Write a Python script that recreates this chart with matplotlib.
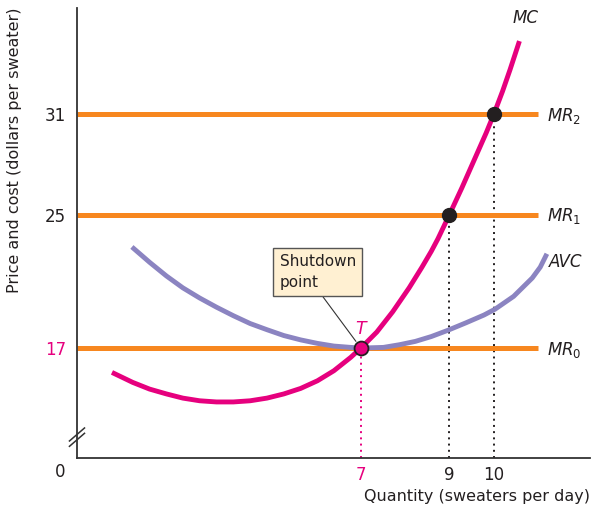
import matplotlib
matplotlib.use('Agg')
import matplotlib.pyplot as plt

# Fonts
plt.rcParams['font.family'] = ['DejaVu Sans']
plt.rcParams['mathtext.fontset'] = 'dejavusans'

# Colours
orange = '#F7871F'
magenta = '#E6007E'
purple = '#8B84C1'
ink = '#231F20'

# Data
mc_q = [1.38, 1.85, 2.23, 2.61, 2.98, 3.36, 3.74, 4.12, 4.5, 4.88, 5.26, 5.64, 6.02,
        6.39, 6.77, 7.0, 7.36, 7.72, 8.09, 8.38, 8.59, 8.74, 9.0, 9.28, 9.58, 9.83,
        10.0, 10.2, 10.37, 10.58]
mc_p = [15.54, 14.94, 14.54, 14.25, 14.0, 13.84, 13.77, 13.77, 13.84, 14.0, 14.25, 14.58, 15.04,
        15.64, 16.44, 17.0, 17.96, 19.18, 20.61, 21.85, 22.8, 23.55, 25.0, 26.6, 28.4, 29.9,
        31.0, 32.4, 33.7, 35.4]

avc_q = [1.83, 2.23, 2.61, 2.98, 3.36, 3.74, 4.12, 4.5, 4.88, 5.26, 5.64, 6.02, 6.39,
         6.77, 7.0, 7.51, 7.87, 8.23, 8.59, 8.96, 9.37, 9.78, 10.03, 10.45, 10.87, 11.05, 11.2]
avc_p = [23.06, 22.14, 21.32, 20.61, 20.0, 19.45, 18.94, 18.47, 18.1, 17.75, 17.49, 17.28, 17.12,
         17.04, 17.0, 17.04, 17.2, 17.4, 17.69, 18.06, 18.51, 18.98, 19.33, 20.1, 21.2, 21.85, 22.65]

mr_prices = [17, 25, 31]
mr_labels = ['$MR_0$', '$MR_1$', '$MR_2$']

profit_q = [9, 10]
profit_p = [25, 31]
shutdown_q = 7
shutdown_p = 17

x_ticks = [7, 9, 10]
y_ticks = [17, 25, 31]

# Figure
fig = plt.figure(figsize=(5.94, 5.16), dpi=100)
ax = fig.add_axes([0.1296, 0.1124, 0.8634, 0.872])
xmin, xmax = 0.59, 12.17
ymin, ymax = 10.41, 37.38
ax.set_xlim(xmin, xmax)
ax.set_ylim(ymin, ymax)

# Marginal revenue lines
for p, lab in zip(mr_prices, mr_labels):
    ax.plot([xmin, 11.0], [p, p], color=orange, lw=3.6, solid_capstyle='butt', zorder=2)
    ax.text(11.2, p - 0.1, lab, fontsize=12, va='center', ha='left', color=ink)

# Cost curves
ax.plot(avc_q, avc_p, color=purple, lw=3.5, solid_capstyle='butt', zorder=3)
ax.plot(mc_q, mc_p, color=magenta, lw=3.5, solid_capstyle='butt', zorder=4)
ax.text(10.71, 36.8, 'MC', fontsize=12, style='italic', ha='center', va='center', color=ink)
ax.text(11.24, 22.13, 'AVC', fontsize=12, style='italic', ha='left', va='center', color=ink)

# Dotted drop lines
for q, p in zip(profit_q, profit_p):
    ax.plot([q, q], [ymin, p], color=ink, lw=1.4, ls=(0, (1, 2.2)), zorder=1)
ax.plot([shutdown_q, shutdown_q], [ymin, shutdown_p], color=magenta, lw=1.4,
        ls=(0, (1, 2.2)), zorder=1)

# Points
ax.plot(profit_q, profit_p, 'o', ms=10, color=ink, zorder=6)
ax.plot([shutdown_q], [shutdown_p], 'o', ms=10, mfc=magenta, mec=ink, mew=1.3, zorder=6)
ax.text(7.0, 18.15, 'T', fontsize=12.5, style='italic', color=magenta, ha='center', va='center')

# Shutdown label
ax.annotate('Shutdown\npoint', xy=(shutdown_q, shutdown_p), xytext=(6.03, 21.56),
            fontsize=11, ha='center', va='center', multialignment='left', color=ink,
            linespacing=1.5,
            bbox=dict(boxstyle='square,pad=0.42', fc='#FFF0D2', ec='#555555', lw=1),
            arrowprops=dict(arrowstyle='-', color='#333333', lw=0.8, relpos=(0.5, 0),
                            shrinkA=0, shrinkB=6), zorder=7)

# Axes styling
for s in ['top', 'right']:
    ax.spines[s].set_visible(False)
for s in ['left', 'bottom']:
    ax.spines[s].set_color('#333333')
    ax.spines[s].set_linewidth(1.3)

ax.set_xticks(x_ticks)
ax.set_xticklabels([str(v) for v in x_ticks], fontsize=12)
ax.set_yticks(y_ticks)
ax.set_yticklabels([str(v) for v in y_ticks], fontsize=12)
ax.tick_params(length=0, colors=ink)
ax.tick_params(axis='y', pad=8)
ax.tick_params(axis='x', pad=6)
ax.get_xticklabels()[0].set_color(magenta)
ax.get_yticklabels()[0].set_color(magenta)

fig.text(60 / 594, 1 - 472 / 516, '0', fontsize=12, ha='center', va='center', color=ink)

# Axis break on y axis
for yb in [11.5, 11.82]:
    ax.plot([xmin - 0.17, xmin + 0.17], [yb - 0.39, yb + 0.39], color='#333333', lw=1.1,
            clip_on=False, zorder=8)

ax.set_ylabel('Price and cost (dollars per sweater)', fontsize=11.5, color=ink)
ax.yaxis.set_label_coords(-0.107, 0.684)
ax.set_xlabel('Quantity (sweaters per day)', fontsize=11.5, color=ink, ha='right')
ax.xaxis.set_label_coords(1.0, -0.068)

fig.savefig('out.png', dpi=100)
